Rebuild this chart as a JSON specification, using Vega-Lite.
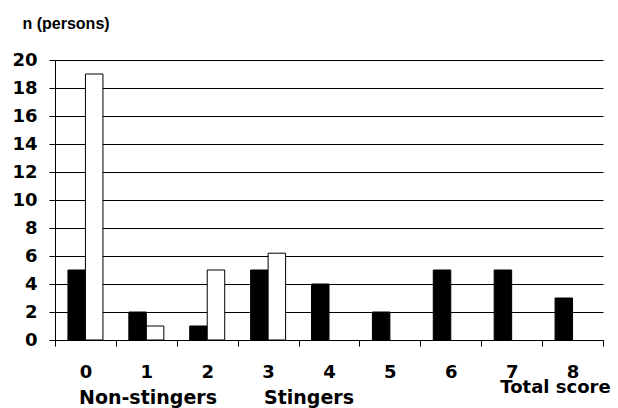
{
  "$schema": "https://vega.github.io/schema/vega-lite/v6.json",
  "width": 548,
  "height": 280,
  "autosize": "none",
  "padding": {"left": 55, "top": 60, "right": 15, "bottom": 68},
  "background": "white",
  "config": {
    "view": {"stroke": null},
    "font": "DejaVu Sans",
    "axis": {"labelFont": "DejaVu Sans", "titleFont": "DejaVu Sans"}
  },
  "data": {
    "values": [
      {"score": "0", "group": "Stingers", "n": 5},
      {"score": "1", "group": "Stingers", "n": 2},
      {"score": "2", "group": "Stingers", "n": 1},
      {"score": "3", "group": "Stingers", "n": 5},
      {"score": "4", "group": "Stingers", "n": 4},
      {"score": "5", "group": "Stingers", "n": 2},
      {"score": "6", "group": "Stingers", "n": 5},
      {"score": "7", "group": "Stingers", "n": 5},
      {"score": "8", "group": "Stingers", "n": 3},
      {"score": "0", "group": "Non-stingers", "n": 19},
      {"score": "1", "group": "Non-stingers", "n": 1},
      {"score": "2", "group": "Non-stingers", "n": 5},
      {"score": "3", "group": "Non-stingers", "n": 6.2}
    ]
  },
  "mark": {"type": "bar", "stroke": "black", "strokeWidth": 1},
  "encoding": {
    "x": {
      "field": "score",
      "type": "ordinal",
      "scale": {"domain": ["0","1","2","3","4","5","6","7","8"], "paddingInner": 0, "paddingOuter": 0},
      "axis": {
        "title": "Total score",
        "titleFontSize": 18,
        "titleFontWeight": "bold",
        "titleColor": "black",
        "titleX": 500,
        "titleY": 52,
        "titleBaseline": "alphabetic",
        "titleAnchor": "middle",
        "labelAngle": 0,
        "labelFontSize": 18,
        "labelFontWeight": "bold",
        "labelColor": "black",
        "labelPadding": 17,
        "tickBand": "extent",
        "tickSize": 6,
        "tickColor": "black",
        "domainColor": "black",
        "grid": false
      }
    },
    "xOffset": {
      "field": "group",
      "type": "nominal",
      "scale": {"domain": ["Stingers", "Non-stingers"], "paddingInner": 0, "paddingOuter": 0.74}
    },
    "y": {
      "field": "n",
      "type": "quantitative",
      "scale": {"domain": [0, 20], "nice": false},
      "axis": {
        "title": "n (persons)",
        "titleFont": "Liberation Sans",
        "titleAngle": 0,
        "titleAlign": "left",
        "titleBaseline": "alphabetic",
        "titleX": -33,
        "titleY": -32,
        "titleFontSize": 16,
        "titleFontWeight": "bold",
        "titleColor": "black",
        "values": [0,2,4,6,8,10,12,14,16,18,20],
        "labelFontSize": 18,
        "labelFontWeight": "bold",
        "labelColor": "black",
        "labelPadding": 12,
        "tickSize": 6,
        "tickColor": "black",
        "domainColor": "black",
        "grid": true,
        "gridColor": "black",
        "gridOpacity": 1,
        "gridWidth": 1
      }
    },
    "fill": {
      "field": "group",
      "type": "nominal",
      "scale": {"domain": ["Non-stingers", "Stingers"], "range": ["white", "black"]},
      "legend": {
        "title": null,
        "orient": "none",
        "direction": "horizontal",
        "legendX": 5,
        "legendY": 328,
        "symbolSize": 0,
        "symbolStrokeWidth": 0,
        "labelOffset": 0,
        "labelFontSize": 19,
        "labelFontWeight": "bold",
        "labelColor": "black",
        "labelFont": "DejaVu Sans",
        "columnPadding": 28
      }
    }
  }
}
